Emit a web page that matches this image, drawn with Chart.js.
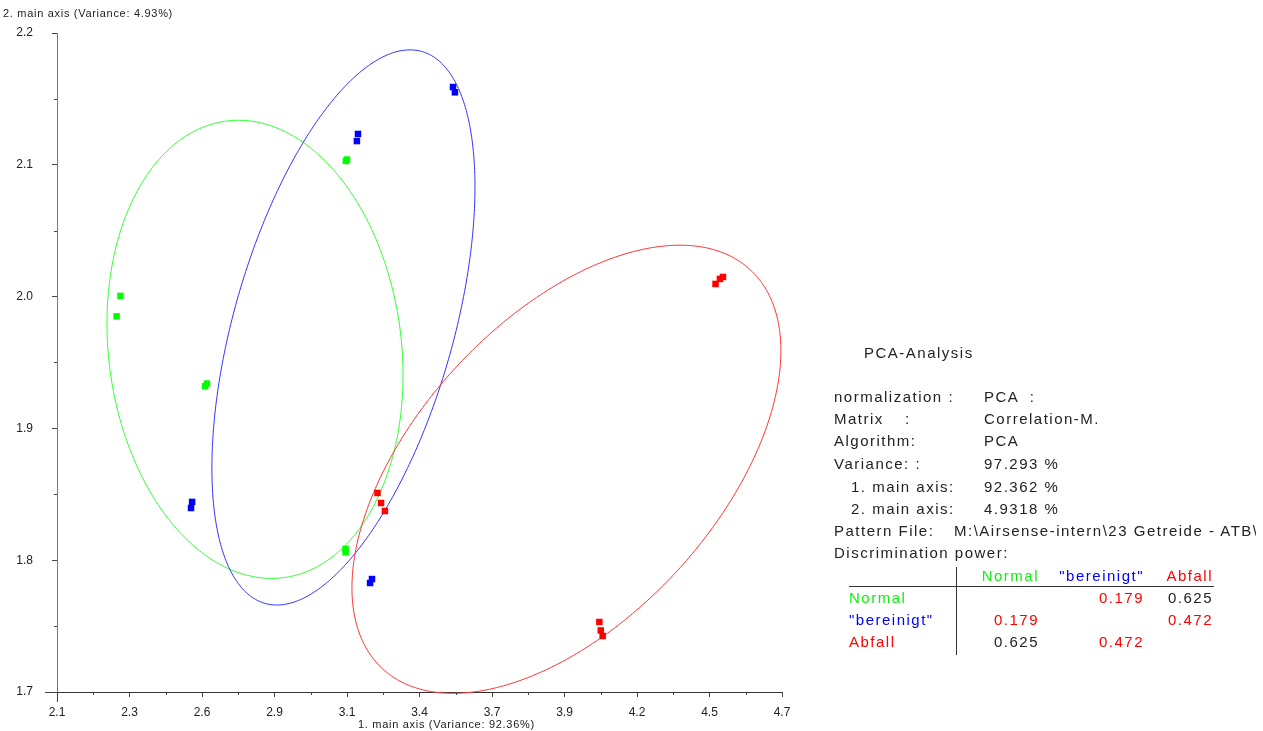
<!DOCTYPE html>
<html>
<head>
<meta charset="utf-8">
<script src="https://cdn.jsdelivr.net/npm/chart.js@4.4.1/dist/chart.umd.min.js"></script>
<style>
  body { margin: 0; background: #fff; }
  #wrap { position: relative; width: 1263px; height: 731px; overflow: hidden; font-family: 'Liberation Sans', Arial, sans-serif; }
  #plot { position: absolute; left: 0; top: 0; }
  .t { position: absolute; white-space: nowrap; line-height: 18px; font-size: 15px; letter-spacing: 1.5px; color: #222; }
  .ax { position: absolute; white-space: nowrap; font-size: 11px; letter-spacing: 0.7px; color: #222; line-height: 14px; }
  .r { text-align: right; }
  .green { color: #11ee11; }
  .blue { color: #0000ff; }
  .red { color: #ff0000; }
</style>
</head>
<body>
<div id="wrap">
  <canvas id="plot" width="1263" height="731"></canvas>

  <div class="ax" style="left:3px; top:6px;">2. main axis (Variance: 4.93%)</div>
  <div class="ax" style="left:358px; top:717px;">1. main axis (Variance: 92.36%)</div>

  <div class="t" style="left:864px; top:344px;">PCA-Analysis</div>

  <div class="t" style="left:834px; top:388px;">normalization :</div>
  <div class="t" style="left:984px; top:388px;">PCA &nbsp;:</div>
  <div class="t" style="left:834px; top:410px;">Matrix</div>
  <div class="t" style="left:905px; top:410px;">:</div>
  <div class="t" style="left:984px; top:410px;">Correlation-M.</div>
  <div class="t" style="left:834px; top:432px;">Algorithm:</div>
  <div class="t" style="left:984px; top:432px;">PCA</div>
  <div class="t" style="left:834px; top:455px;">Variance: :</div>
  <div class="t" style="left:984px; top:455px;">97.293 %</div>
  <div class="t" style="left:851px; top:478px;">1. main axis:</div>
  <div class="t" style="left:984px; top:478px;">92.362 %</div>
  <div class="t" style="left:851px; top:500px;">2. main axis:</div>
  <div class="t" style="left:984px; top:500px;">4.9318 %</div>
  <div class="t" style="left:834px; top:522px;">Pattern File:</div>
  <div class="t" style="left:954px; top:522px; width:302px; overflow:hidden;">M:\Airsense-intern\23 Getreide - ATB\</div>
  <div class="t" style="left:834px; top:544px;">Discrimination power:</div>

  <div id="table"></div>
  <div style="position:absolute; left:849px; top:586px; width:365px; height:1px; background:#333;"></div>
  <div style="position:absolute; left:956px; top:567px; width:1px; height:88px; background:#333;"></div>
</div>

<script>
// axis ranges and tick labels
const xMin = 2.08, xMax = 4.72;
const yMin = 1.7, yMax = 2.2;
const xTickLabels = ['2.1', '2.3', '2.6', '2.9', '3.1', '3.4', '3.7', '3.9', '4.2', '4.5', '4.7'];
const yTickLabels = ['1.7', '1.8', '1.9', '2.0', '2.1', '2.2'];

// groups
const groups = ['Normal', '"bereinigt"', 'Abfall'];
const groupColors = ['#00ff00', '#0000ff', '#ff0000'];
const ellipseColors = ['#33ff33', '#3333ff', '#ff3333'];

// scores
const normalX = [2.311, 2.297, 2.619, 2.626, 3.132, 3.136, 3.131, 3.131];
const normalY = [2.0005, 1.985, 1.932, 1.934, 2.1029, 2.104, 1.8085, 1.806];
const bereinigtX = [3.522, 3.529, 3.176, 3.172, 2.572, 2.568, 3.227, 3.220];
const bereinigtY = [2.159, 2.155, 2.1234, 2.118, 1.8442, 1.8396, 1.7857, 1.7827];
const abfallX = [3.247, 3.260, 3.274, 4.478, 4.494, 4.505, 4.055, 4.060, 4.067];
const abfallY = [1.851, 1.8434, 1.8373, 2.0096, 2.0134, 2.0149, 1.7531, 1.7467, 1.7425];

// group ellipses (centre, half widths, correlation) in axis units
const ellCx = [2.801, 3.123, 3.935];
const ellCy = [1.960, 1.9766, 1.869];
const ellSx = [0.539, 0.479, 0.781];
const ellSy = [0.1738, 0.2106, 0.170];
const ellRho = [-0.112, 0.506, 0.529];

// discrimination power table
const discRows = [
  [null, 0.179, 0.625],
  [0.179, null, 0.472],
  [0.625, 0.472, null]
];
const discColors = [
  [null, '#ff0000', '#222'],
  ['#ff0000', null, '#ff0000'],
  ['#222', '#ff0000', null]
];

function pts(xs, ys) {
  return xs.map((x, i) => ({ x: x, y: ys[i] }));
}

// table html
const colRight = [1039, 1144, 1213];
const rowY = [576, 598, 620, 642];
const groupCls = ['green', 'blue', 'red'];
let html = '';
groups.forEach((g, j) => {
  html += '<div class="t r ' + groupCls[j] + '" style="right:' + (1263 - colRight[j]) + 'px; top:' + (rowY[0] - 9) + 'px;">' + g + '</div>';
});
discRows.forEach((row, i) => {
  html += '<div class="t ' + groupCls[i] + '" style="left:849px; top:' + (rowY[i + 1] - 9) + 'px;">' + groups[i] + '</div>';
  row.forEach((v, j) => {
    if (v === null) return;
    html += '<div class="t r" style="color:' + discColors[i][j] + '; right:' + (1263 - colRight[j]) + 'px; top:' + (rowY[i + 1] - 9) + 'px;">' + v.toFixed(3) + '</div>';
  });
});
document.getElementById('table').innerHTML = html;

const ellipsePlugin = {
  id: 'ellipses',
  beforeDatasetsDraw(chart) {
    const ctx = chart.ctx;
    const xs = chart.scales.x, ys = chart.scales.y;
    ctx.save();
    ctx.lineWidth = 1;
    for (let k = 0; k < ellCx.length; k++) {
      const q = Math.sqrt(1 - ellRho[k] * ellRho[k]);
      ctx.strokeStyle = ellipseColors[k];
      ctx.beginPath();
      for (let s = 0; s <= 360; s++) {
        const t = s * Math.PI / 180;
        const vx = ellCx[k] + ellSx[k] * Math.cos(t);
        const vy = ellCy[k] + ellSy[k] * (ellRho[k] * Math.cos(t) + q * Math.sin(t));
        const px = xs.getPixelForValue(vx), py = ys.getPixelForValue(vy);
        if (s === 0) ctx.moveTo(px, py); else ctx.lineTo(px, py);
      }
      ctx.stroke();
    }
    ctx.restore();
  },
  afterDraw(chart) {
    // short minor ticks + corner extensions
    const ctx = chart.ctx;
    const xs = chart.scales.x, ys = chart.scales.y;
    const a = chart.chartArea;
    ctx.save();
    ctx.lineWidth = 1;
    ctx.strokeStyle = '#444';
    ctx.beginPath();
    xs.ticks.forEach((t, i) => {
      if (i % 2 === 1) {
        const px = Math.round(xs.getPixelForValue(t.value)) + 0.5;
        ctx.moveTo(px, a.bottom); ctx.lineTo(px, a.bottom + 3);
      }
    });
    ys.ticks.forEach((t, i) => {
      if (i % 2 === 1) {
        const py = Math.round(ys.getPixelForValue(t.value)) + 0.5;
        ctx.moveTo(a.left - 3, py); ctx.lineTo(a.left, py);
      }
    });
    ctx.moveTo(a.left - 12, a.bottom + 0.5); ctx.lineTo(a.left, a.bottom + 0.5);
    ctx.moveTo(a.left + 0.5, a.bottom); ctx.lineTo(a.left + 0.5, a.bottom + 10);
    ctx.stroke();
    ctx.restore();
  }
};

Chart.defaults.font.family = "'Liberation Sans', Arial, sans-serif";

new Chart(document.getElementById('plot'), {
  type: 'scatter',
  data: {
    datasets: [
      { label: groups[0], data: pts(normalX, normalY), backgroundColor: groupColors[0] },
      { label: groups[1], data: pts(bereinigtX, bereinigtY), backgroundColor: groupColors[1] },
      { label: groups[2], data: pts(abfallX, abfallY), backgroundColor: groupColors[2] }
    ]
  },
  options: {
    responsive: false,
    animation: false,
    layout: { padding: { left: 0, top: 33, right: 481, bottom: 0 } },
    elements: { point: { pointStyle: 'rect', radius: 4.6, borderWidth: 0, hoverRadius: 4.6 } },
    plugins: { legend: { display: false }, tooltip: { enabled: false } },
    scales: {
      x: {
        type: 'linear',
        min: xMin, max: xMax,
        afterBuildTicks: (s) => {
          const n = (xTickLabels.length - 1) * 2;
          s.ticks = Array.from({ length: n + 1 }, (_, i) => ({ value: xMin + (xMax - xMin) * i / n }));
        },
        afterFit: (s) => { s.height = 39; },
        ticks: {
          autoSkip: false, maxRotation: 0, padding: 8, color: '#222', font: { size: 12 },
          callback: (v, i) => (i % 2 ? '' : xTickLabels[i / 2])
        },
        grid: {
          drawOnChartArea: false, tickLength: 5,
          tickColor: (c) => (c.index % 2 ? 'rgba(0,0,0,0)' : '#444')
        },
        border: { color: '#333', width: 1 }
      },
      y: {
        type: 'linear',
        min: yMin, max: yMax,
        afterBuildTicks: (s) => {
          const n = (yTickLabels.length - 1) * 2;
          s.ticks = Array.from({ length: n + 1 }, (_, i) => ({ value: yMin + (yMax - yMin) * i / n }));
        },
        afterFit: (s) => { s.width = 57; },
        ticks: {
          autoSkip: false, padding: 19, color: '#222', font: { size: 12 },
          callback: (v, i) => (i % 2 ? '' : yTickLabels[i / 2])
        },
        grid: {
          drawOnChartArea: false, tickLength: 5,
          tickColor: (c) => (c.index % 2 ? 'rgba(0,0,0,0)' : '#444')
        },
        border: { color: '#777', width: 1 }
      }
    }
  },
  plugins: [ellipsePlugin]
});
</script>
</body>
</html>
